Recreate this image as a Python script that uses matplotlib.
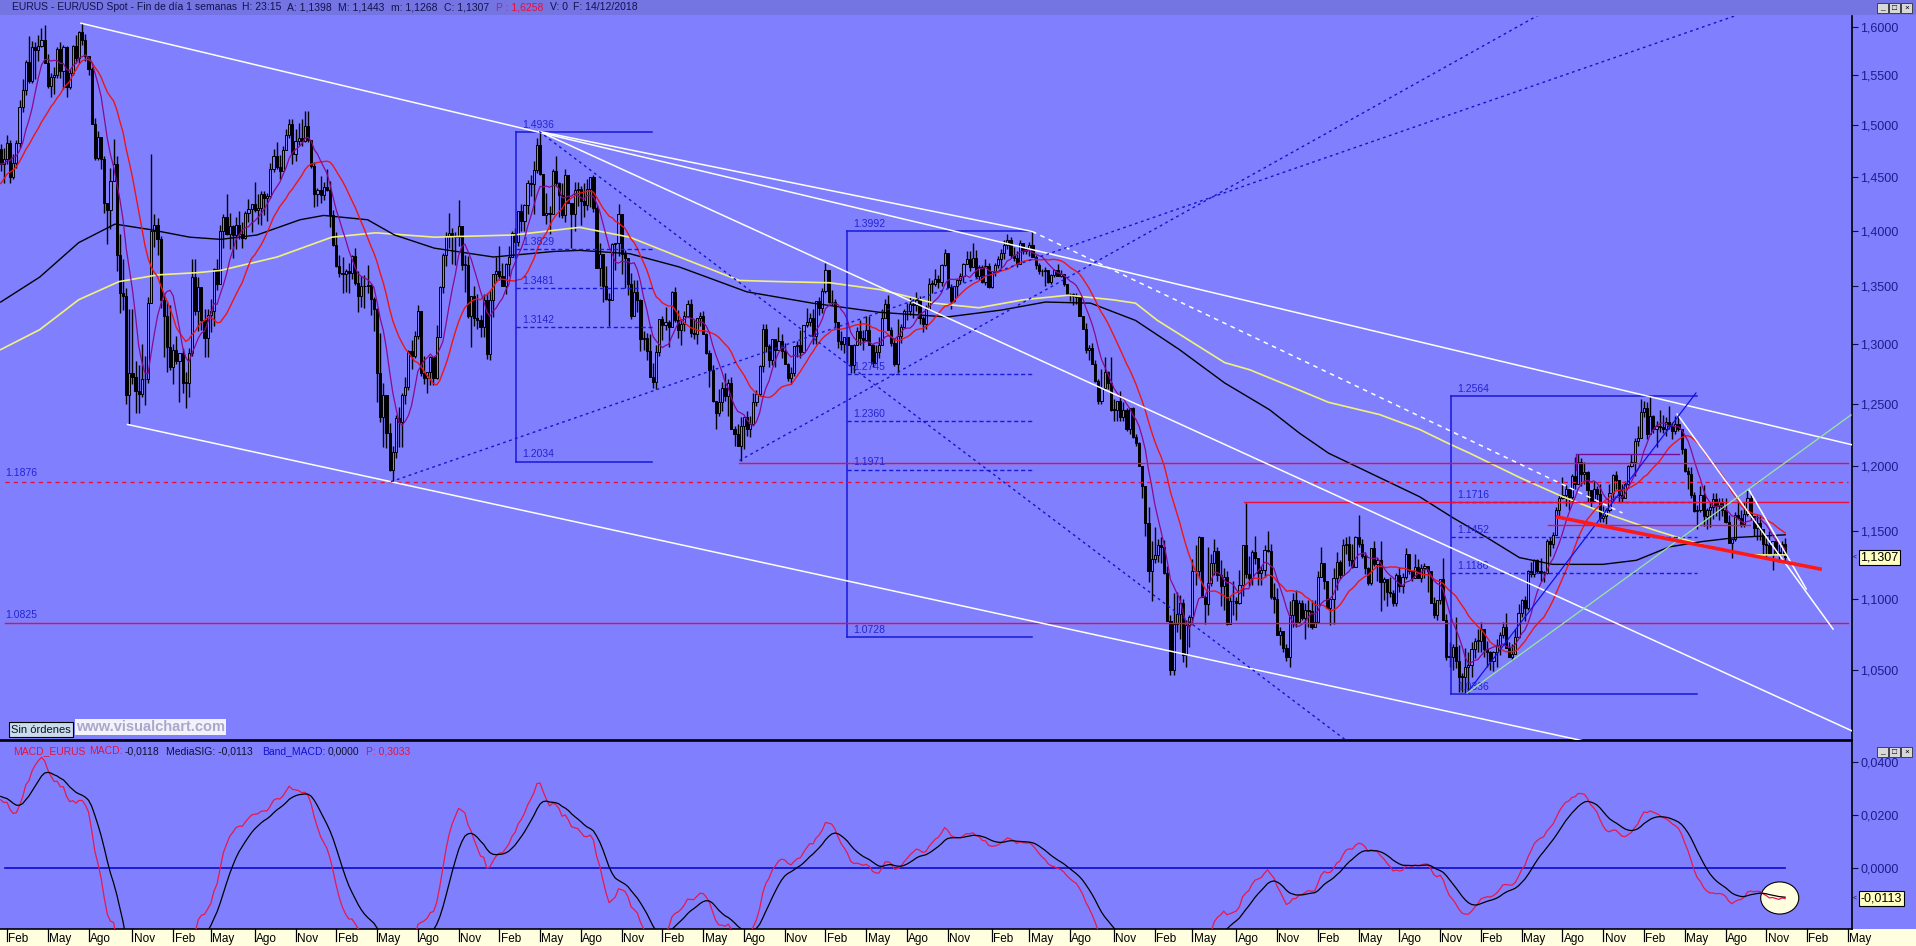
import numpy as np
import pandas as pd
import matplotlib
matplotlib.use('Agg')
import matplotlib.pyplot as plt
import matplotlib.dates as mdates
from matplotlib.patches import Rectangle, Ellipse
from matplotlib.ticker import NullLocator, NullFormatter

plt.rcParams['font.family'] = ['Liberation Sans', 'DejaVu Sans']

# weekly closes 2007-01-05 .. 2008-01-11, only used to warm up averages / MACD
warmup_close = [
    13000, 12930, 12960, 12950, 13050, 12990, 13120, 13220, 13220, 13120,
    13280, 13320, 13360, 13390, 13500, 13580, 13640, 13550, 13510, 13510,
    13460, 13460, 13370, 13380, 13440, 13540, 13630, 13780, 13820, 13670,
    13770, 13690, 13440, 13580, 13660, 13830, 13880, 14100, 14260, 14160,
    14180, 14290, 14420, 14510, 14660, 14660, 14830, 14630, 14650, 14430,
    14390, 14730, 14770, 14770]

# EUR/USD weekly bars 2008-01-18 .. 2018-12-14 (price x 10000), one row per year
wk_close = [
    14620, 14675, 14825, 14500, 14630, 14830, 15180, 15350, 15640, 15440, 15790, 15760, 15805, 15860, 15630, 15395, 15480, 15500, 15765, 15540, 15785, 15380, 15520, 15800, 15680, 15945, 15860, 15700, 15560, 15010, 14680, 14890, 14670, 14260, 14190, 14460, 14625, 13780, 13440, 13410, 12570, 12750, 12720, 12600, 12580, 12700, 12700, 13350, 14000, 14050,
    13920, 13380, 13240, 12970, 12800, 12950, 12850, 12920, 12670, 12670, 12920, 13580, 13280, 13490, 13200, 13050, 13250, 13280, 13650, 13520, 14000, 14130, 13970, 14040, 13960, 14050, 13970, 13930, 14160, 14200, 14250, 14190, 14210, 14340, 14300, 14320, 14580, 14700, 14600, 14560, 14760, 14910, 15010, 14720, 14850, 14880, 14850, 14990, 14860, 14610, 14340, 14380,
    14330, 14410, 14380, 14140, 13870, 13680, 13620, 13610, 13630, 13620, 13770, 13530, 13410, 13500, 13500, 13510, 13390, 13300, 12750, 12390, 12570, 12260, 11970, 12110, 12380, 12350, 12570, 12640, 12940, 12900, 13070, 13280, 12750, 12710, 12760, 12890, 12710, 13060, 13490, 13780, 13950, 13980, 13950, 13940, 14040, 13690, 13690, 13240, 13410, 13220, 13200, 13140, 13380,
    12910, 13380, 13610, 13630, 13590, 13500, 13700, 13760, 13980, 13900, 14180, 14090, 14240, 14440, 14430, 14570, 14810, 14530, 14140, 14160, 14150, 14560, 14440, 14330, 14140, 14520, 14260, 14150, 14380, 14390, 14270, 14240, 14390, 14500, 14210, 13660, 13790, 13500, 13390, 13380, 13880, 13890, 14150, 13790, 13750, 13520, 13240, 13450, 13380, 13040, 13050, 12940,
    12720, 12680, 12930, 13210, 13160, 13190, 13140, 13450, 13200, 13120, 13170, 13240, 13340, 13090, 13080, 13220, 13240, 13080, 12920, 12780, 12520, 12420, 12510, 12630, 12560, 12670, 12290, 12250, 12160, 12320, 12390, 12290, 12330, 12510, 12580, 12810, 13130, 12980, 12860, 13040, 12950, 13020, 12940, 12830, 12710, 12750, 12980, 12990, 12930, 13160, 13190, 13220,
    13070, 13370, 13310, 13460, 13640, 13360, 13360, 13190, 13020, 13000, 13060, 12990, 12820, 12990, 13110, 13050, 13030, 13120, 12990, 12840, 12930, 12990, 13220, 13340, 13120, 13010, 12830, 13070, 13140, 13280, 13280, 13340, 13330, 13380, 13220, 13170, 13300, 13520, 13520, 13560, 13540, 13690, 13800, 13490, 13370, 13500, 13550, 13590, 13700, 13740, 13670, 13750,
    13590, 13670, 13540, 13680, 13490, 13630, 13690, 13740, 13800, 13870, 13910, 13780, 13750, 13700, 13890, 13810, 13830, 13870, 13760, 13690, 13630, 13630, 13640, 13540, 13600, 13640, 13590, 13610, 13520, 13430, 13430, 13410, 13400, 13240, 13130, 12950, 12960, 12830, 12690, 12520, 12630, 12760, 12670, 12450, 12450, 12520, 12390, 12450, 12290, 12460, 12230, 12180,
    12000, 11840, 11560, 11200, 11290, 11320, 11390, 11380, 11190, 10840, 10500, 10820, 10890, 10970, 10600, 10810, 10870, 11200, 11200, 11450, 11010, 10960, 11110, 11260, 11350, 11170, 11090, 11160, 10820, 10980, 10980, 10970, 11100, 11390, 11180, 11150, 11340, 11300, 11190, 11210, 11360, 11350, 11010, 11000, 10740, 10770, 10650, 10590, 10880, 10990, 10830, 10970,
    10860, 10920, 10910, 10800, 10830, 11160, 11260, 11130, 10930, 11000, 11150, 11270, 11170, 11390, 11400, 11280, 11230, 11450, 11400, 11310, 11220, 11110, 11370, 11250, 11280, 11120, 11140, 11050, 11040, 10970, 11170, 11090, 11160, 11330, 11200, 11150, 11230, 11150, 11220, 11240, 11200, 10970, 10880, 10990, 11140, 10850, 10590, 10590, 10660, 10560, 10450, 10450, 10520,
    10530, 10640, 10700, 10700, 10780, 10640, 10620, 10560, 10620, 10670, 10740, 10800, 10650, 10590, 10610, 10730, 10900, 10990, 10930, 11200, 11180, 11280, 11200, 11190, 11190, 11420, 11400, 11470, 11660, 11750, 11770, 11820, 11760, 11920, 11860, 12030, 11940, 11950, 11810, 11730, 11820, 11780, 11600, 11610, 11660, 11790, 11930, 11890, 11770, 11750, 11860, 12000,
    12030, 12200, 12220, 12430, 12460, 12250, 12400, 12290, 12320, 12310, 12290, 12350, 12320, 12280, 12330, 12290, 12130, 11960, 11940, 11770, 11650, 11660, 11770, 11610, 11660, 11680, 11740, 11690, 11720, 11660, 11570, 11410, 11440, 11620, 11600, 11550, 11630, 11750, 11610, 11520, 11560, 11510, 11400, 11390, 11330, 11420, 11340, 11320, 11398, 11307]

wk_high = [
    14815, 14782, 14905, 14860, 14720, 14855, 15250, 15460, 15655, 15905, 15850, 15840, 15915, 15985, 16020, 15715, 15520, 15580, 15795, 15840, 15815, 15800, 15560, 15815, 15910, 15960, 16038, 15920, 15700, 15580, 15070, 14940, 14870, 14700, 14240, 14590, 14865, 14700, 13970, 13740, 13480, 13300, 13300, 12850, 12820, 13000, 12900, 13400, 14720, 14150,
    14120, 13950, 13440, 13370, 13330, 13000, 13070, 12900, 12960, 12760, 12960, 13740, 13740, 13580, 13480, 13300, 13300, 13390, 13660, 13740, 14050, 14150, 14340, 14160, 14050, 14130, 14180, 14080, 14180, 14290, 14250, 14450, 14340, 14370, 14370, 14350, 14630, 14770, 14840, 14710, 14800, 14960, 15060, 15060, 14960, 15020, 15060, 15140, 15140, 14860, 14640, 14400,
    14510, 14450, 14580, 14460, 14190, 13990, 13780, 13760, 13650, 13710, 13780, 13840, 13630, 13590, 13600, 13690, 13520, 13400, 13310, 13090, 12670, 12540, 12340, 12160, 12410, 12470, 12590, 12720, 12950, 13030, 13110, 13330, 13220, 12900, 12760, 12900, 12880, 13160, 13500, 13800, 13990, 14160, 14020, 13990, 14280, 14040, 13780, 13770, 13410, 13500, 13430, 13250, 13430,
    13440, 13460, 13610, 13760, 13860, 13710, 13710, 13860, 14000, 14020, 14180, 14250, 14250, 14470, 14520, 14650, 14880, 14940, 14460, 14350, 14230, 14580, 14700, 14450, 14440, 14580, 14460, 14210, 14450, 14450, 14420, 14440, 14480, 14480, 14520, 14240, 13890, 13780, 13680, 13440, 13890, 13890, 14250, 14090, 13820, 13660, 13620, 13550, 13550, 13390, 13110, 13090,
    13080, 12840, 12990, 13190, 13240, 13320, 13200, 13460, 13490, 13290, 13200, 13280, 13380, 13390, 13210, 13200, 13270, 13280, 13090, 12950, 12820, 12520, 12620, 12680, 12750, 12700, 12720, 12320, 12330, 12390, 12390, 12440, 12400, 12590, 12610, 12820, 13170, 13170, 13000, 13040, 13040, 13140, 13080, 13010, 12840, 12800, 12980, 13020, 13120, 13160, 13310, 13260,
    13300, 13370, 13400, 13480, 13710, 13580, 13470, 13390, 13160, 13110, 13060, 13050, 12990, 13000, 13140, 13200, 13120, 13240, 13240, 13000, 12990, 13060, 13300, 13390, 13420, 13140, 13050, 13210, 13170, 13300, 13350, 13400, 13390, 13450, 13410, 13240, 13330, 13570, 13550, 13650, 13600, 13700, 13830, 13800, 13520, 13500, 13560, 13620, 13710, 13810, 13810, 13890,
    13820, 13690, 13690, 13740, 13710, 13620, 13710, 13770, 13830, 13910, 13970, 13940, 13850, 13810, 13910, 13880, 13850, 13900, 13993, 13780, 13710, 13650, 13670, 13600, 13610, 13650, 13700, 13640, 13610, 13520, 13440, 13440, 13440, 13390, 13240, 13180, 12990, 13010, 12860, 12700, 12790, 12890, 12770, 12890, 12540, 12510, 12600, 12510, 12460, 12460, 12470, 12250,
    12190, 11980, 11840, 11680, 11420, 11530, 11440, 11450, 11430, 11240, 10880, 11040, 11050, 11030, 11000, 10850, 10880, 11290, 11390, 11460, 11440, 11030, 11380, 11330, 11440, 11380, 11280, 11220, 11200, 11010, 11130, 11010, 11210, 11390, 11714, 11310, 11360, 11460, 11280, 11240, 11390, 11500, 11400, 11110, 11080, 10800, 10760, 10680, 10980, 11040, 11060, 10990,
    10990, 10970, 10990, 10990, 10990, 11200, 11380, 11260, 11070, 11000, 11220, 11340, 11280, 11440, 11450, 11460, 11400, 11460, 11620, 11440, 11340, 11230, 11370, 11420, 11300, 11420, 11160, 11120, 11160, 11060, 11190, 11230, 11190, 11370, 11330, 11200, 11330, 11290, 11250, 11260, 11230, 11140, 11010, 10990, 11140, 11300, 10890, 10690, 10680, 10870, 10670, 10480, 10650,
    10620, 10690, 10720, 10780, 10830, 10780, 10700, 10630, 10630, 10710, 10760, 10830, 10900, 10690, 10680, 10780, 10960, 11000, 11020, 11210, 11270, 11290, 11290, 11300, 11200, 11440, 11450, 11490, 11680, 11780, 11910, 11850, 11790, 11940, 12070, 12092, 12060, 12030, 11960, 11800, 11880, 11840, 11860, 11690, 11670, 11860, 11940, 11960, 11880, 11860, 11880, 12010,
    12090, 12220, 12320, 12540, 12520, 12510, 12564, 12410, 12360, 12450, 12410, 12390, 12480, 12350, 12400, 12414, 12290, 12140, 11990, 11990, 11800, 11700, 11840, 11850, 11670, 11720, 11790, 11790, 11750, 11750, 11750, 11620, 11440, 11640, 11730, 11660, 11720, 11815, 11790, 11610, 11620, 11620, 11510, 11450, 11500, 11420, 11470, 11400, 11420, 11443]

wk_low = [
    14555, 14445, 14625, 14443, 14480, 14590, 14780, 15135, 15300, 15420, 15420, 15460, 15650, 15785, 15630, 15375, 15285, 15315, 15470, 15470, 15365, 15285, 15360, 15500, 15630, 15630, 15815, 15645, 15500, 15010, 14660, 14660, 14580, 14160, 13880, 14015, 14500, 13635, 13260, 13290, 12500, 12330, 12660, 12420, 12420, 12550, 12490, 12670, 13350, 13850,
    13780, 13310, 12885, 12760, 12780, 12660, 12830, 12510, 12590, 12460, 12550, 12900, 13250, 13110, 13120, 12890, 12890, 13100, 13150, 13470, 13520, 13840, 13960, 13830, 13750, 13830, 13920, 13840, 13920, 14080, 13990, 14170, 14060, 14050, 14140, 14090, 14300, 14550, 14580, 14480, 14560, 14760, 14880, 14620, 14650, 14810, 14800, 14840, 14840, 14590, 14220, 14230,
    14260, 14280, 14370, 14030, 13860, 13670, 13580, 13440, 13450, 13440, 13560, 13510, 13270, 13320, 13310, 13440, 13250, 13110, 12510, 12350, 12150, 12140, 11960, 11876, 12060, 12150, 12150, 12500, 12610, 12790, 12880, 13040, 12730, 12660, 12590, 12650, 12650, 12700, 13060, 13440, 13680, 13840, 13700, 13690, 13860, 13640, 13450, 13220, 12970, 13150, 13130, 13060, 13060,
    12870, 12860, 13230, 13540, 13550, 13500, 13430, 13590, 13760, 13750, 13860, 14000, 14000, 14150, 14320, 14150, 14540, 14520, 14150, 14060, 13970, 14150, 14420, 14130, 14120, 14080, 14260, 13840, 14000, 14230, 14050, 14130, 14190, 14220, 14170, 13660, 13500, 13360, 13380, 13150, 13380, 13640, 13770, 13610, 13480, 13420, 13210, 13240, 13270, 12940, 12950, 12860,
    12720, 12630, 12620, 12900, 13030, 13120, 12970, 13150, 13190, 13050, 12990, 13110, 13230, 13060, 13040, 13000, 13150, 13080, 12910, 12640, 12510, 12290, 12400, 12440, 12520, 12400, 12290, 12160, 12160, 12040, 12130, 12240, 12230, 12330, 12480, 12560, 12760, 12930, 12800, 12820, 12800, 12960, 12880, 12840, 12690, 12660, 12730, 12890, 12880, 12920, 13140, 13150,
    13000, 13000, 13250, 13260, 13440, 13350, 13330, 13140, 12960, 12950, 12920, 12840, 12750, 12750, 12990, 12990, 12950, 13020, 12990, 12800, 12840, 12880, 12990, 13230, 13120, 12980, 12810, 12750, 13010, 13140, 13200, 13250, 13220, 13280, 13170, 13100, 13130, 13290, 13440, 13500, 13480, 13500, 13680, 13480, 13300, 13360, 13400, 13520, 13540, 13700, 13630, 13670,
    13570, 13550, 13530, 13510, 13480, 13480, 13590, 13660, 13660, 13740, 13830, 13750, 13720, 13670, 13700, 13790, 13790, 13770, 13760, 13650, 13610, 13590, 13500, 13530, 13520, 13580, 13590, 13580, 13500, 13420, 13370, 13330, 13340, 13240, 13130, 12920, 12860, 12830, 12680, 12500, 12500, 12620, 12620, 12440, 12360, 12360, 12360, 12360, 12280, 12250, 12220, 12160,
    12000, 11750, 11460, 11120, 10980, 11260, 11270, 11260, 11180, 10840, 10460, 10460, 10760, 10710, 10550, 10520, 10660, 10820, 11100, 11150, 11010, 10820, 10880, 11090, 11170, 11130, 10950, 10920, 10810, 10820, 10880, 10850, 10960, 11020, 11150, 11090, 11100, 11250, 11100, 11100, 11160, 11340, 11000, 10900, 10740, 10670, 10620, 10560, 10520, 10800, 10800, 10830,
    10850, 10710, 10800, 10780, 10800, 10830, 11160, 11070, 10930, 10810, 10820, 11060, 11140, 11170, 11330, 11240, 11220, 11230, 11380, 11300, 11180, 11100, 11100, 11240, 11130, 10910, 10990, 10950, 11010, 10950, 10950, 11050, 11040, 11140, 11180, 11130, 11150, 11150, 11120, 11150, 11050, 10980, 10860, 10850, 10960, 10850, 10570, 10520, 10500, 10510, 10350, 10350, 10340,
    10340, 10450, 10580, 10620, 10620, 10590, 10520, 10500, 10490, 10520, 10600, 10720, 10650, 10590, 10570, 10650, 10720, 10870, 10840, 10920, 11160, 11160, 11190, 11130, 11120, 11180, 11310, 11370, 11470, 11610, 11740, 11690, 11660, 11720, 11820, 11860, 11840, 11860, 11720, 11670, 11730, 11730, 11570, 11570, 11550, 11640, 11720, 11820, 11720, 11720, 11780, 11850,
    11990, 11920, 12160, 12220, 12390, 12210, 12260, 12260, 12150, 12270, 12260, 12240, 12290, 12210, 12250, 12280, 12090, 11950, 11820, 11750, 11640, 11510, 11640, 11540, 11510, 11530, 11590, 11610, 11580, 11610, 11560, 11410, 11300, 11420, 11590, 11530, 11530, 11610, 11580, 11460, 11430, 11430, 11330, 11300, 11340, 11210, 11330, 11270, 11320, 11268]

# long averages (black ~100 weeks, yellow ~200 weeks)
black_ma_dates = ['2008-01-18', '2008-04-14', '2008-07-10', '2008-09-29', '2008-12-16', '2009-03-15',
                  '2009-05-23', '2009-08-12', '2009-11-16', '2010-01-08', '2010-04-16', '2010-06-15',
                  '2010-09-12', '2011-01-22', '2011-06-05', '2011-08-02', '2011-11-22', '2012-03-12',
                  '2012-08-09', '2013-01-03', '2013-06-02', '2013-10-31', '2014-03-01', '2014-06-07',
                  '2014-09-16', '2014-12-25', '2015-04-02', '2015-07-12', '2015-10-20', '2015-12-26',
                  '2016-02-29', '2016-09-19', '2016-12-02', '2017-02-16', '2017-04-30', '2017-07-13',
                  '2017-11-02', '2018-01-16', '2018-03-31', '2018-06-13', '2018-08-28', '2018-12-14']
black_ma = [1.336, 1.358, 1.389, 1.406, 1.401, 1.394, 1.392, 1.396, 1.410, 1.414, 1.410, 1.396,
            1.384, 1.376, 1.381, 1.382, 1.379, 1.367, 1.345, 1.335, 1.327, 1.323, 1.329, 1.336,
            1.335, 1.320, 1.295, 1.267, 1.245, 1.226, 1.210, 1.176, 1.160, 1.145, 1.130, 1.125,
            1.125, 1.128, 1.138, 1.142, 1.145, 1.147]
yellow_ma_dates = ['2008-01-18', '2008-04-14', '2008-07-10', '2008-10-08', '2009-01-03', '2009-04-02',
                   '2009-05-23', '2009-09-26', '2010-01-26', '2010-05-04', '2010-09-12', '2011-03-08',
                   '2011-08-02', '2011-11-22', '2012-03-12', '2012-07-24', '2012-10-21', '2013-02-10',
                   '2013-06-02', '2013-10-02', '2014-01-09', '2014-04-19', '2014-07-28', '2014-11-04',
                   '2014-12-25', '2015-02-12', '2015-07-12', '2015-09-06', '2015-12-26', '2016-02-29',
                   '2016-06-22', '2016-09-19', '2016-11-21', '2017-01-09', '2017-04-30', '2017-07-29',
                   '2017-11-02', '2018-02-21', '2018-05-08', '2018-07-21', '2018-10-02', '2018-12-14']
yellow_ma = [1.295, 1.312, 1.338, 1.354, 1.360, 1.362, 1.364, 1.376, 1.394, 1.398, 1.394, 1.396,
             1.403, 1.394, 1.376, 1.355, 1.354, 1.353, 1.347, 1.335, 1.331, 1.338, 1.342, 1.338,
             1.335, 1.320, 1.284, 1.278, 1.261, 1.251, 1.241, 1.229, 1.218, 1.210, 1.191, 1.177,
             1.164, 1.151, 1.143, 1.136, 1.132, 1.132]

# Fibonacci boxes: start, end, top, bottom, dashed levels
fib_boxes = [
    ('2011-03-14', '2012-01-11', 1.4936, 1.2034, [1.3829, 1.3481, 1.3142]),
    ('2013-03-21', '2014-05-08', 1.3992, 1.0728, [1.2745, 1.2360, 1.1971]),
    ('2016-11-29', '2018-06-01', 1.2564, 1.0336, [1.1716, 1.1452, 1.1186]),
]

# trend lines: date1, price1, date2, price2, extend-to date
white_lines = [
    ('2008-07-15', 1.6038, '2018-02-16', 1.2556, '2019-05-15'),
    ('2011-05-04', 1.4940, '2014-05-08', 1.3993, None),
    ('2011-05-04', 1.4940, '2013-06-02', 1.3493, '2019-05-15'),
    ('2008-10-27', 1.2330, '2010-06-07', 1.1876, '2019-05-15'),
    ('2018-04-17', 1.2414, '2019-03-31', 1.0783, None),
    ('2018-09-24', 1.1815, '2019-01-30', 1.1070, None),
]
white_dashed = [('2014-05-08', 1.3993, '2017-12-16', 1.1635, None)]
blue_dotted = [
    ('2010-06-07', 1.1876, '2018-08-30', 1.6125, None),
    ('2012-07-24', 1.2042, '2017-06-12', 1.6125, None),
    ('2011-05-04', 1.4940, '2016-04-07', 1.0027, None),
]
red_thick = [('2017-07-24', 1.1604, '2019-03-02', 1.1216, None)]
blue_solid = [('2017-01-03', 1.0340, '2018-05-29', 1.2587, None)]
green_lines = [('2017-01-03', 1.0340, '2019-05-10', 1.2407, None)]

# horizontal levels: start, end, price
red_levels = [('2012-07-24', '2019-05-03', 1.2025), ('2008-01-27', '2019-05-03', 1.0825),
              ('2015-08-24', '2019-05-03', 1.1716), ('2017-07-02', '2018-09-26', 1.1544)]
red_dashed_levels = [('2008-01-27', '2019-05-03', 1.1876)]
purple_level = [('2017-09-04', 1.1967), ('2017-09-04', 1.2092), ('2018-04-22', 1.2092)]

price_ticks = [1.05, 1.10, 1.15, 1.20, 1.25, 1.30, 1.35, 1.40, 1.45, 1.50, 1.55, 1.60]
macd_ticks = [0.0, 0.02, 0.04]
month_names = {2: 'Feb', 5: 'May', 8: 'Ago', 11: 'Nov'}

BG = '#8080FF'
W, H = 1916, 946


def seg(d1, p1, d2, p2, d_end=None):
    x1, x2 = mdates.datestr2num([d1, d2])
    if d_end is None:
        return [x1, x2], [p1, p2]
    xe = mdates.datestr2num(d_end)
    pe = np.exp(np.log(p1) + (np.log(p2) - np.log(p1)) * (xe - x1) / (x2 - x1))
    return [x1, xe], [p1, pe]


def ftext(x, y, s, **kw):
    kw.setdefault('va', 'center')
    kw.setdefault('ha', 'left')
    return fig.text(x / W, 1 - y / H, s, **kw)


# ---- series
dates = pd.date_range('2008-01-18', periods=len(wk_close), freq='W-FRI')
wdates = pd.date_range('2007-01-05', periods=len(warmup_close), freq='W-FRI')
c = np.array(wk_close) / 1e4
allc = pd.Series(np.r_[np.array(warmup_close) / 1e4, c], index=wdates.append(dates))
o = allc.shift(1).values[len(warmup_close):]
h = np.maximum.reduce([np.array(wk_high) / 1e4, o, c])
l = np.minimum.reduce([np.array(wk_low) / 1e4, o, c])
x = mdates.date2num(dates)

ma_fast = allc.rolling(8).mean().loc[dates].values
ma_slow = allc.rolling(20).mean().loc[dates].values
macd_all = allc.ewm(span=12, adjust=False).mean() - allc.ewm(span=26, adjust=False).mean()
sig_all = macd_all.ewm(span=9, adjust=False).mean()
macd = macd_all.loc[dates].values
sig = sig_all.loc[dates].values

# ---- figure
fig = plt.figure(figsize=(W / 100, H / 100), dpi=100)
fig.patch.set_facecolor(BG)
ax = fig.add_axes([0, 206 / H, 1852 / W, 724 / H])
axm = fig.add_axes([0, 17 / H, 1852 / W, 188 / H])
axx = fig.add_axes([0, 0, 1852 / W, 17 / H])

x0 = mdates.datestr2num('2008-02-01')
xlim = (x0 - 15.6, x0 + 4118.3)

for a in (ax, axm):
    a.set_facecolor(BG)
    a.set_xlim(*xlim)
    a.tick_params(axis='x', bottom=False, labelbottom=False)
    a.spines['left'].set_visible(False)
    for s in ('right', 'bottom', 'top'):
        a.spines[s].set_color('black')
        a.spines[s].set_linewidth(1.2)
ax.spines['top'].set_visible(False)

# candles
up = c >= o
body = np.maximum(np.abs(c - o), 0.0004)
ax.vlines(x, l, h, color='black', lw=1.0, zorder=3)
ax.bar(x[up], body[up], bottom=np.minimum(o, c)[up], width=4.8, facecolor=BG,
       edgecolor='black', lw=0.7, zorder=4)
ax.bar(x[~up], body[~up], bottom=np.minimum(o, c)[~up], width=4.8, facecolor='black',
       edgecolor='black', lw=0.7, zorder=4)

# averages
ax.plot(mdates.datestr2num(yellow_ma_dates), yellow_ma, color='#F2F27A', lw=1.2, zorder=5)
ax.plot(mdates.datestr2num(black_ma_dates), black_ma, color='black', lw=1.0, zorder=5)
ax.plot(x, ma_slow, color='#EE1414', lw=1.0, zorder=6)
ax.plot(x, ma_fast, color='#8A0A8A', lw=0.9, zorder=6)

# fibonacci boxes
fib_col = '#1818D8'
for d1, d2, top, bot, levels in fib_boxes:
    xa, xb = mdates.datestr2num([d1, d2])
    ax.plot([xa, xa], [bot, top], color=fib_col, lw=1.1, zorder=7)
    ax.plot([xa, xb], [top, top], color=fib_col, lw=1.1, zorder=7)
    ax.plot([xa, xb], [bot, bot], color=fib_col, lw=1.1, zorder=7)
    for lv in levels:
        ax.plot([xa, xb], [lv, lv], color=fib_col, lw=1.0, ls=(0, (3, 2)), zorder=7)
    for lv in [top, bot] + levels:
        ax.annotate(f'{lv:.4f}', (xa, lv), xytext=(4.5, 1.5), textcoords='offset points',
                    fontsize=7.5, color='#2424D0', va='bottom', ha='left', zorder=8)

# horizontal levels
for d1, d2, p in red_levels:
    xa, xb = mdates.datestr2num([d1, d2])
    ax.plot([xa, xb], [p, p], color='#E8103A', lw=1.0, zorder=7)
for d1, d2, p in red_dashed_levels:
    xa, xb = mdates.datestr2num([d1, d2])
    ax.plot([xa, xb], [p, p], color='#E8103A', lw=1.0, ls=(0, (3, 3)), zorder=7)
for p in (1.1876, 1.0825):
    ax.annotate(f'{p:.4f}', (mdates.datestr2num('2008-01-27'), p), xytext=(0, 2.5),
                textcoords='offset points', fontsize=7.5, color='#2424D0', va='bottom', zorder=8)
ax.plot(mdates.datestr2num([d for d, _ in purple_level]), [p for _, p in purple_level],
        color='#7A0A9A', lw=1.0, zorder=7)

# trend lines
for spec in white_lines:
    ax.plot(*seg(*spec), color='white', lw=1.1, zorder=8)
for spec in white_dashed:
    ax.plot(*seg(*spec), color='white', lw=1.1, ls=(0, (3, 3)), zorder=8)
for spec in blue_dotted:
    ax.plot(*seg(*spec), color='#1414C8', lw=1.0, ls=(0, (2, 2.5)), zorder=8)
for spec in blue_solid:
    ax.plot(*seg(*spec), color='#1010E8', lw=0.9, zorder=8)
for spec in green_lines:
    ax.plot(*seg(*spec), color='#98E898', lw=0.9, zorder=8)
for spec in red_thick:
    ax.plot(*seg(*spec), color='#FF1818', lw=2.6, zorder=9)

# price axis
ax.set_yscale('log')
ax.set_ylim(1.0027, 1.6114)
ax.yaxis.tick_right()
ax.set_yticks(price_ticks)
ax.set_yticklabels([f'{t:.4f}'.replace('.', ',') for t in price_ticks])
ax.yaxis.set_minor_locator(NullLocator())
ax.yaxis.set_minor_formatter(NullFormatter())
for a in (ax, axm):
    a.tick_params(axis='y', direction='out', length=4, width=0.8, color='#101040',
                  labelcolor='#1C1C8C', labelsize=9, pad=2)

# MACD panel
xe = mdates.datestr2num('2018-12-02')
axm.add_patch(Ellipse((xe, -0.01157), width=85, height=0.0122, facecolor='#FFFFE0',
                      edgecolor='black', lw=0.8, zorder=2))
axm.plot([xlim[0] + 11, x[-1]], [0, 0], color='#0A0ACD', lw=1.2, zorder=3)
axm.plot(x, macd, color='#E8184A', lw=0.9, zorder=4)
axm.plot(x, sig, color='black', lw=0.9, zorder=4)
axm.set_ylim(-0.02334, 0.04801)
axm.yaxis.tick_right()
axm.set_yticks(macd_ticks)
axm.set_yticklabels([f'{t:.4f}'.replace('.', ',') for t in macd_ticks])

# date strip
fig.add_artist(Rectangle((0, 0), 1, 17 / H, transform=fig.transFigure,
                         facecolor='#FFFFE0', edgecolor='none', zorder=0))
axx.set_xlim(*xlim)
axx.set_ylim(0, 1)
axx.axis('off')
tick_days = pd.date_range('2008-01-01', '2019-06-01', freq='WOM-1FRI')
for d in tick_days:
    if d.month in month_names:
        xt = mdates.date2num(d)
        axx.plot([xt, xt], [1, 0.3], color='black', lw=0.9, clip_on=False)
        axx.text(xt + 3, 0.42, month_names[d.month], fontsize=8.5, va='center', ha='left',
                 clip_on=False)

# title bar
fig.add_artist(Rectangle((0, 1 - 15 / H), 1, 15 / H, transform=fig.transFigure,
                         facecolor='#7474E2', edgecolor='none', zorder=1))
navy = '#121250'
for xp, s, col in [(12, 'EURUS - EUR/USD Spot - Fin de día 1 semanas', navy),
                   (242, 'H: 23:15', navy), (287, 'A: 1,1398', navy), (338, 'M: 1,1443', navy),
                   (391, 'm: 1,1268', navy), (444, 'C: 1,1307', navy),
                   (496, 'P : 1,6258', '#E8103A'), (550, 'V: 0', navy),
                   (573, 'F: 14/12/2018', navy)]:
    ftext(xp, 7.5, s, fontsize=7.5, color=col, zorder=2)

# MACD header
for xp, s, col in [(13, 'MACD_EURUS', '#E8103A'), (89, 'MACD:', '#E8103A'),
                   (125, '-0,0118', '#101030'), (166, 'MediaSIG: -0,0113', '#101030'),
                   (262, 'Band_MACD:', '#1010D0'), (328, '0,0000', '#101030'),
                   (366, 'P: 0,3033', '#E8103A')]:
    ftext(xp, 751, s, fontsize=7.5, color=col)

# current value boxes on the scales
ftext(1879.5, 557, '1,1307', fontsize=9, ha='center', color='black',
      bbox=dict(boxstyle='square,pad=0.12', facecolor='#FFFFC0', edgecolor='black', lw=0.8))
ftext(1881.5, 898, '-0,0113', fontsize=9, ha='center', color='black',
      bbox=dict(boxstyle='square,pad=0.12', facecolor='#FFFFC0', edgecolor='black', lw=0.8))
ftext(1853, 557, '<', fontsize=5, color='#101040')
ftext(1853, 898, '<', fontsize=5, color='#101040')

# window buttons
for yb in (3, 747):
    for i, g in enumerate(['_', '□', '×']):
        xb = 1877 + 12 * i
        fig.add_artist(Rectangle((xb / W, 1 - (yb + 10) / H), 11 / W, 10 / H,
                                 transform=fig.transFigure, facecolor='#D8D8D8',
                                 edgecolor='#303030', lw=0.6, zorder=3))
        ftext(xb + 5.5, yb + 5, g, fontsize=6, ha='center', color='black', zorder=4)

# footer tags
ftext(11, 729.5, 'Sin órdenes', fontsize=8, color='#101020',
      bbox=dict(boxstyle='square,pad=0.2', facecolor='#C8DCEC', edgecolor='black', lw=0.8))
ftext(76, 727, 'www.visualchart.com', fontsize=10.5, fontweight='bold', color='#A8A8CC',
      bbox=dict(boxstyle='square,pad=0.05', facecolor='#F2F2FA', edgecolor='none'))

fig.savefig('out.png', dpi=100, facecolor=fig.get_facecolor())
